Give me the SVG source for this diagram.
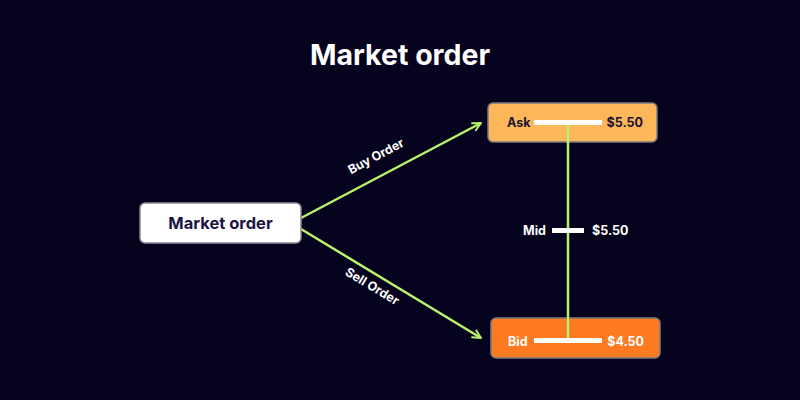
<svg xmlns="http://www.w3.org/2000/svg" width="800" height="400" viewBox="0 0 800 400">
<defs>
<style>
text{font-family:Inter,"Open Sans","Liberation Sans",sans-serif;font-weight:700}
.lbl{fill:#ffffff;font-size:12.5px}
.conn{stroke:#b9f36b;stroke-width:2.5;fill:none}
.bar{fill:#ffffff}
</style>
<marker id="arr" viewBox="0 0 10 10" refX="9" refY="5" markerWidth="10" markerHeight="10" markerUnits="userSpaceOnUse" orient="auto">
<path d="M1,1 L9,5 L1,9" fill="none" stroke="#b9f36b" stroke-width="2" stroke-linecap="round" stroke-linejoin="round"/>
</marker>
</defs>
<rect width="800" height="400" fill="#05031e"/>
<text x="400" y="65" text-anchor="middle" font-size="28.5" fill="#ffffff">Market order</text>
<g id="connectors">
<line class="conn" x1="301" y1="218" x2="481" y2="123" marker-end="url(#arr)"/>
<line class="conn" x1="301" y1="229" x2="481" y2="338" marker-end="url(#arr)"/>
<text class="lbl" transform="translate(378,160) rotate(-28)" text-anchor="middle">Buy Order</text>
<text class="lbl" transform="translate(370,290) rotate(31)" text-anchor="middle">Sell Order</text>
</g>
<g id="market">
<rect x="140" y="203" width="161" height="40" rx="5" fill="#ffffff" stroke="#8a8a99" stroke-width="1.5"/>
<text x="220.5" y="229" text-anchor="middle" font-size="16.5" fill="#1a1545">Market order</text>
</g>
<g id="ask">
<rect x="488" y="103" width="169" height="39" rx="5" fill="#fdb75b" stroke="#7a7a80" stroke-width="1.5"/>
<text x="507" y="127" font-size="12.5" fill="#1a1330">Ask</text>
<text x="643" y="127" text-anchor="end" font-size="12.5" fill="#1a1330">$5.50</text>
</g>
<g id="bid">
<rect x="491" y="318" width="169" height="40" rx="5" fill="#fe7a21" stroke="#7a7a80" stroke-width="1.5"/>
<text x="508" y="346" font-size="12.5" fill="#ffffff">Bid</text>
<text x="644" y="346" text-anchor="end" font-size="12.5" fill="#ffffff">$4.50</text>
</g>
<g id="spread">
<line x1="568" y1="122" x2="568" y2="341" stroke="#b9f36b" stroke-width="2.5"/>
<rect class="bar" x="534" y="120" width="68" height="5"/>
<rect class="bar" x="534" y="338" width="68" height="5"/>
<rect class="bar" x="552" y="228" width="32" height="5"/>
<text x="523" y="235" font-size="12.5" fill="#ffffff">Mid</text>
<text x="592" y="235" font-size="12.5" fill="#ffffff">$5.50</text>
</g>
</svg>
